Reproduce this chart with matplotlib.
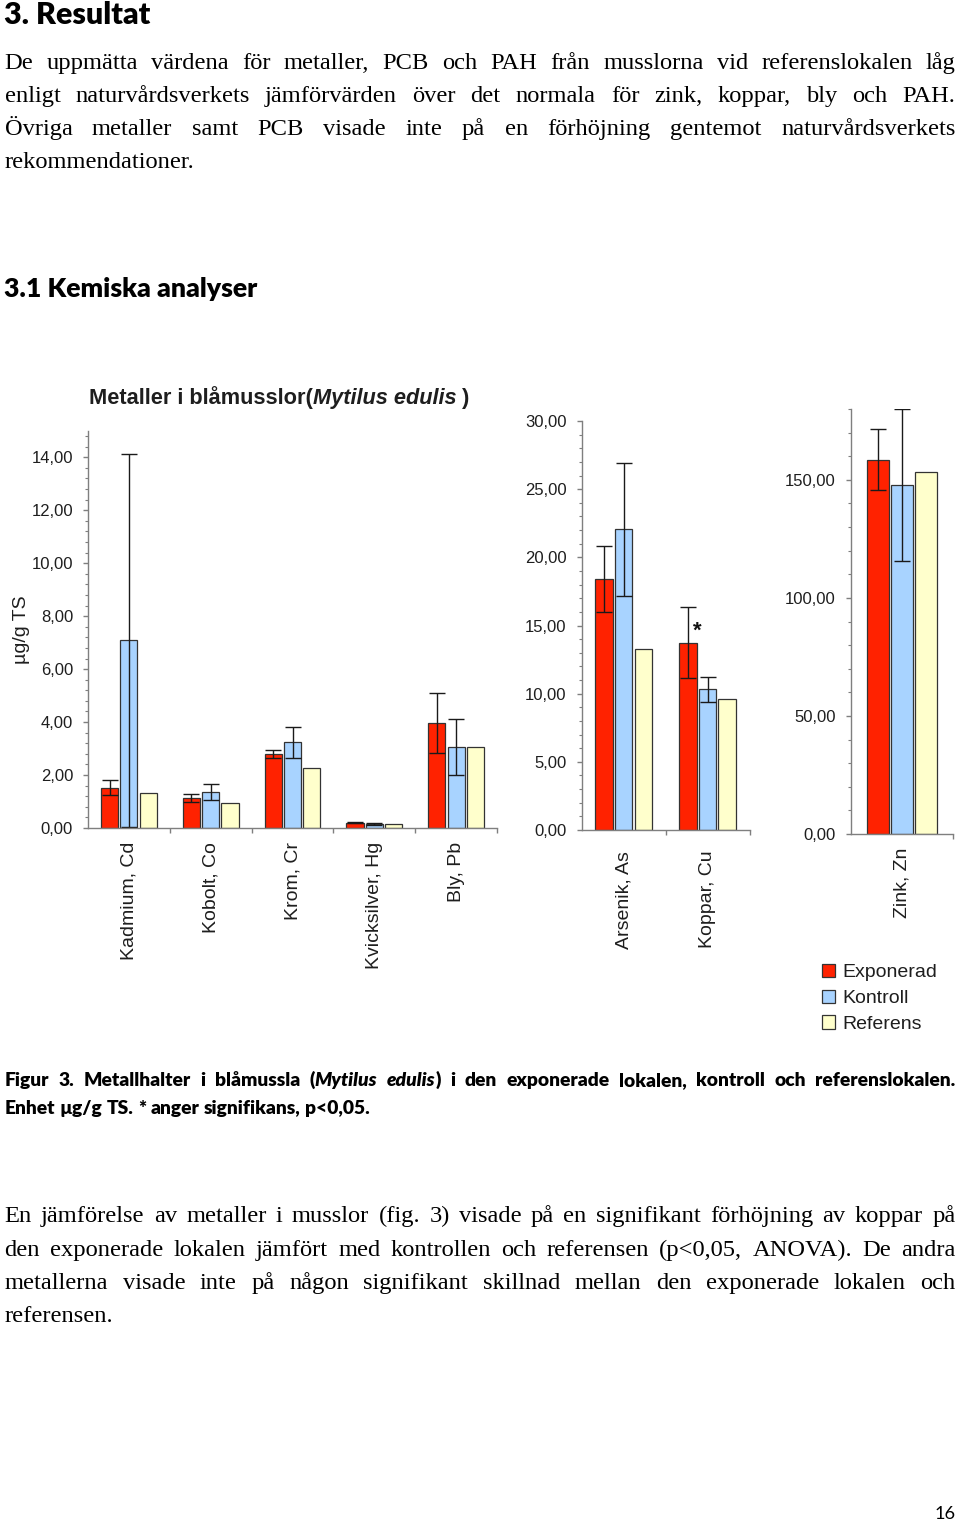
import matplotlib
matplotlib.use('Agg')
import matplotlib.pyplot as plt
from matplotlib.ticker import MultipleLocator, FuncFormatter
import numpy as np

# ---------------- data ----------------
cats1 = ['Kadmium, Cd', 'Kobolt, Co', 'Krom, Cr', 'Kvicksilver, Hg', 'Bly, Pb']
exp1 = [1.52, 1.15, 2.79, 0.19, 3.97]
exp1_err = [0.28, 0.15, 0.16, 0.02, 1.12]
kon1 = [7.09, 1.35, 3.24, 0.15, 3.05]
kon1_err = [7.05, 0.30, 0.58, 0.04, 1.05]
ref1 = [1.32, 0.93, 2.28, 0.15, 3.05]

cats2 = ['Arsenik, As', 'Koppar, Cu']
exp2 = [18.41, 13.74]
exp2_err = [2.42, 2.60]
kon2 = [22.05, 10.32]
kon2_err = [4.87, 0.93]
ref2 = [13.30, 9.61]

cats3 = ['Zink, Zn']
exp3 = [158.5]
exp3_err = [12.9]
kon3 = [147.9]
kon3_err = [32.3]
ref3 = [153.5]

series_names = ['Exponerad', 'Kontroll', 'Referens']

# ---------------- figure ----------------
W, H = 960, 1525
fig = plt.figure(figsize=(W / 100, H / 100), dpi=100)
fig.patch.set_facecolor('white')
renderer = fig.canvas.get_renderer()


def fx(x):
    return x / W


def fy(y):
    return 1 - y / H


def width_of(s, size, style):
    t = fig.text(0, 0, s, fontsize=size, **style)
    w = t.get_window_extent(renderer=renderer).width
    t.remove()
    return w


def fit_size(s, target, style, ref=20.0):
    return ref * target / width_of(s, ref, style)


def draw_line(words, x0, ybase, size, base, x1=None):
    """words: list of list of (text, extra style). Justify to x1 if given."""
    items, widths = [], []
    for w in words:
        pieces, tot = [], 0
        for s, st in w:
            sty = dict(base)
            sty.update(st)
            t = fig.text(0, fy(ybase), s, fontsize=size, va='baseline', ha='left', **sty)
            pw = t.get_window_extent(renderer=renderer).width
            pieces.append((t, pw))
            tot += pw
        items.append(pieces)
        widths.append(tot)
    sp = width_of('a a', size, base) - width_of('aa', size, base)
    if x1 is not None and len(words) > 1:
        gap = (x1 - x0 - sum(widths)) / (len(words) - 1)
    else:
        gap = sp
    x = x0
    for pieces, tot in zip(items, widths):
        xx = x
        for t, pw in pieces:
            t.set_x(fx(xx))
            xx += pw
        x += tot + gap


def plain(line):
    return [[(w, {})] for w in line.split()]


SERIF = dict(family='Liberation Serif', color='black')
CALB = dict(family='Lato', weight='heavy', color='black')
CAL = dict(family='Lato', color='black')
IT = {'style': 'italic'}

# headings
s = fit_size('3. Resultat', 146, CALB)
fig.text(fx(4), fy(24), '3. Resultat', fontsize=s, va='baseline', ha='left', **CALB)
s = fit_size('3.1 Kemiska analyser', 254, CALB)
fig.text(fx(4), fy(297), '3.1 Kemiska analyser', fontsize=s, va='baseline', ha='left', **CALB)

# body text
body_size = fit_size('rekommendationer.', 190, SERIF)
para1 = ['De uppmätta värdena för metaller, PCB och PAH från musslorna vid referenslokalen låg',
         'enligt naturvårdsverkets jämförvärden över det normala för zink, koppar, bly och PAH.',
         'Övriga metaller samt PCB visade inte på en förhöjning gentemot naturvårdsverkets',
         'rekommendationer.']
base1 = [69, 102, 135, 168]
for i, (ln, yb) in enumerate(zip(para1, base1)):
    draw_line(plain(ln), 4.5, yb, body_size, SERIF, x1=955.5 if i < len(para1) - 1 else None)

para2 = ['En jämförelse av metaller i musslor (fig. 3) visade på en signifikant förhöjning av koppar på',
         'den exponerade lokalen jämfört med kontrollen och referensen (p<0,05, ANOVA). De andra',
         'metallerna visade inte på någon signifikant skillnad mellan den exponerade lokalen och',
         'referensen.']
base2 = [1222, 1256, 1289, 1322]
for i, (ln, yb) in enumerate(zip(para2, base2)):
    draw_line(plain(ln), 4.5, yb, body_size, SERIF, x1=955.5 if i < len(para2) - 1 else None)

# caption
cap2 = 'Enhet µg/g TS. * anger signifikans, p<0,05.'
cap_size = fit_size(cap2, 367, CALB)
cap1_words = plain('Figur 3. Metallhalter i blåmussla') + \
    [[('(', {}), ('Mytilus', IT)], [('edulis', IT), (')', {})]] + \
    plain('i den exponerade lokalen, kontroll och referenslokalen.')
draw_line(cap1_words, 4.5, 1086, cap_size, CALB, x1=955.5)
draw_line(plain(cap2), 4.5, 1114, cap_size, CALB)

# page number
s = fit_size('16', 21, CAL)
fig.text(fx(935), fy(1519), '16', fontsize=s, va='baseline', ha='left', **CAL)

# ---------------- chart ----------------
RED, BLUE, YEL = '#FF2200', '#A8D3FF', '#FFFFCC'
EDGE = '#333333'
AXC = '#7f7f7f'
SANS = 'Liberation Sans'
TXT = '#1e1e1e'


def add_ax(l, r, b, t):
    return fig.add_axes([fx(l), fy(b), (r - l) / W, (b - t) / H])


def fmt(v, p):
    return f'{v:.2f}'.replace('.', ',')


def style(ax, cats, ymax, major, minor, labpad):
    n = len(cats)
    ax.set_xlim(0, n)
    ax.set_ylim(0, ymax)
    for sname in ['top', 'right']:
        ax.spines[sname].set_visible(False)
    for sname in ['left', 'bottom']:
        ax.spines[sname].set_color(AXC)
        ax.spines[sname].set_linewidth(1)
    ax.yaxis.set_major_locator(MultipleLocator(major))
    ax.yaxis.set_minor_locator(MultipleLocator(minor))
    ax.yaxis.set_major_formatter(FuncFormatter(fmt))
    ax.tick_params(axis='y', which='major', direction='out', length=3.3, width=1,
                   color=AXC, labelsize=12, labelcolor=TXT, pad=7.5)
    ax.tick_params(axis='y', which='minor', direction='out', length=2.0, width=0.8, color=AXC)
    for lab in ax.get_yticklabels():
        lab.set_family(SANS)
    ax.set_xticks(np.arange(1, n + 1))
    ax.set_xticklabels([])
    ax.set_xticks(np.arange(n) + 0.5, minor=True)
    ax.set_xticklabels(cats, minor=True, rotation=90, fontsize=14, family=SANS, color=TXT)
    ax.tick_params(axis='x', which='major', direction='out', length=3.6, width=1, color=AXC)
    ax.tick_params(axis='x', which='minor', length=0, pad=labpad)
    ax.set_facecolor('none')


def bars(ax, e, ee, k, ke, r):
    x = np.arange(len(e)) + 0.5
    off, bw = 0.235, 0.21
    ekw = dict(elinewidth=1, capthick=1, ecolor='#1a1a1a')
    ax.bar(x - off, e, bw, yerr=ee, color=RED, edgecolor=EDGE, linewidth=0.9,
           capsize=5.5, error_kw=ekw, label=series_names[0])
    ax.bar(x, k, bw, yerr=ke, color=BLUE, edgecolor=EDGE, linewidth=0.9,
           capsize=5.5, error_kw=ekw, label=series_names[1])
    ax.bar(x + off, r, bw, color=YEL, edgecolor=EDGE, linewidth=0.9, label=series_names[2])


ax1 = add_ax(88, 497, 828, 828 - 15 * 26.48)
bars(ax1, exp1, exp1_err, kon1, kon1_err, ref1)
style(ax1, cats1, 15, 2, 0.4, 10)

ax2 = add_ax(581.7, 749.5, 830, 421)
bars(ax2, exp2, exp2_err, kon2, kon2_err, ref2)
style(ax2, cats2, 30, 5, 1, 15)
ax2.text(1.38, 14.6, '*', ha='center', va='center', fontsize=16, weight='bold', family=SANS, color='#111')

ax3 = add_ax(851, 953, 834, 409)
bars(ax3, exp3, exp3_err, kon3, kon3_err, ref3)
style(ax3, cats3, 180, 50, 10, 10)

# y label
fig.text(fx(22), fy(630), 'µg/g TS', rotation=90, ha='center', va='center',
         fontsize=14, family=SANS, color=TXT)

# chart title
TB = dict(family=SANS, weight='bold', color=TXT)
tparts = [('Metaller i blåmusslor(', {}), ('Mytilus edulis', IT), (' )', {})]
tot = sum(width_of(p, 10, {**TB, **st}) for p, st in tparts)
tsize = 10 * 381 / tot
draw_line([tparts], 89, 404, tsize, TB)

# legend
h, l = ax1.get_legend_handles_labels()
leg = fig.legend(h, l, loc='upper left', bbox_to_anchor=(fx(822), fy(964)),
                 frameon=False, prop=dict(family=SANS, size=14),
                 handlelength=0.68, handleheight=0.68, handletextpad=0.35,
                 labelspacing=0.42, borderpad=0, borderaxespad=0)
for t in leg.get_texts():
    t.set_color(TXT)

fig.savefig('out.png', dpi=100, facecolor='white')
